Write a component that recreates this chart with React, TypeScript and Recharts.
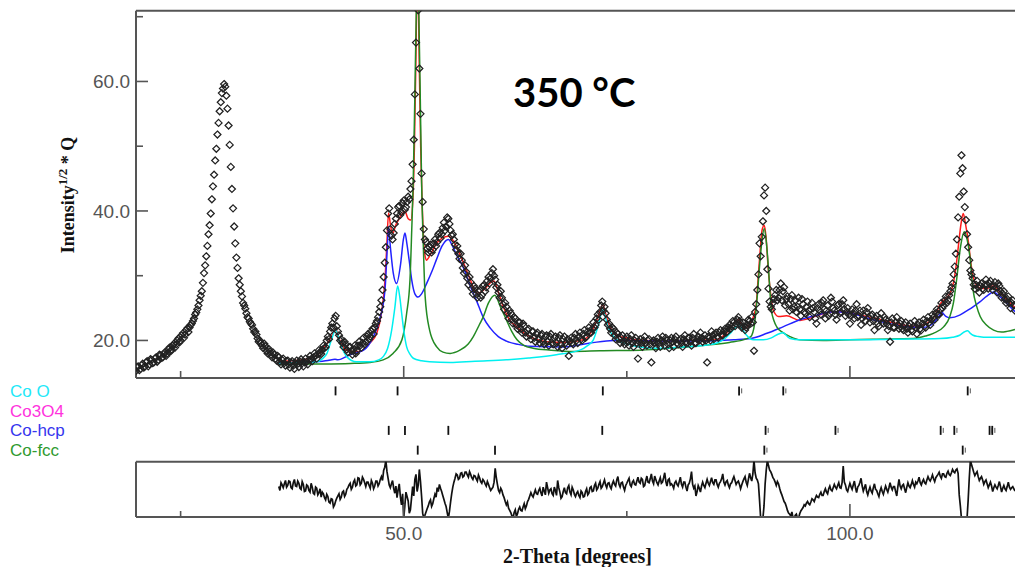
import React from 'react';
import { ComposedChart, Line, Scatter, XAxis, YAxis, ReferenceLine } from 'recharts';

// ---------- axis ranges & ticks ----------
const X_MIN = 20;
const X_MAX = 118.5;
const Y_MIN = 14.2;
const Y_MAX = 70.93;
const DIFF_MIN = -10;
const DIFF_MAX = 10;
const STEP = 0.25;
const HALF_STEP = 0.125;

const X_TICKS = [25, 50, 75, 100];
const X_LABELED = [50, 100];
const Y_TICKS = [20, 30, 40, 50, 60, 70];
const Y_LABELED = [20, 40, 60];

// ---------- observed data (row: start angle, then values every 0.25 deg) ----------
const OBS_ROWS: number[][] = [
  [20, 15.3, 16.0, 15.6, 16.4], [21, 16.0, 16.8, 16.3, 17.0], [22, 16.6, 17.4, 17.0, 17.7], [23, 17.4, 18.2, 18.0, 18.9],
  [24, 18.6, 19.5, 19.4, 20.3], [25, 20.0, 21.1, 20.9, 21.9], [26, 22.0, 22.6, 23.4, 24.3], [27, 25.4, 26.9, 28.9, 31.6],
  [28, 34.6, 37.8, 41.8, 45.6], [29, 49.6, 53.6, 56.8, 58.9], [30, 59.2, 55.8, 50.2, 43.4], [31, 37.6, 32.8, 29.6, 27.6],
  [32, 25.8, 24.9, 23.6, 22.9], [33, 22.4, 21.3, 20.9, 19.8], [34, 19.6, 18.8, 19.1, 18.0], [35, 18.3, 17.4, 17.8, 16.9],
  [36, 17.4, 16.3, 17.2, 16.1], [37, 16.9, 15.8, 16.8, 15.6], [38, 16.9, 15.9, 17.1, 16.0], [39, 17.2, 16.3, 17.6, 16.8],
  [40, 18.0, 17.2, 18.5, 17.9], [41, 19.2, 19.0, 20.6, 21.4], [42, 22.6, 23.4, 22.2, 20.8], [43, 20.2, 19.0, 19.4, 18.2],
  [44, 19.0, 17.8, 19.2, 18.4], [45, 19.8, 18.9, 20.4, 19.8], [46, 21.0, 20.6, 21.8, 22.0], [47, 23.0, 24.4, 26.2, 29.8],
  [48, 34.4, 39.6, 37.2, 35.6], [49, 38.0, 39.6, 40.8, 39.8], [50, 41.6, 40.6, 42.2, 43.4], [51, 47.2, 58.0, 75.0, 62.0],
  [52, 45.8, 37.2, 35.2, 33.6], [53, 34.8, 34.0, 35.6, 35.2], [54, 36.6, 36.4, 38.2, 37.6], [55, 38.8, 37.0, 36.4, 34.8],
  [56, 34.6, 32.6, 32.4, 30.4], [57, 30.6, 28.6, 29.0, 27.2], [58, 28.0, 26.6, 27.8, 27.0], [59, 28.6, 28.2, 29.8, 29.6],
  [60, 31.0, 29.4, 28.6, 26.6], [61, 26.6, 24.8, 25.2, 23.4], [62, 24.2, 22.6, 23.4, 21.8], [63, 22.8, 21.2, 22.2, 20.6],
  [64, 21.8, 20.2, 21.4, 19.8], [65, 21.2, 19.6, 21.0, 19.4], [66, 20.8, 19.2, 21.0, 19.4], [67, 20.6, 19.0, 20.8, 18.8],
  [68, 20.6, 19.2, 17.6, 20.4], [69, 19.4, 21.0, 19.6, 21.2], [70, 20.0, 21.6, 20.6, 22.0], [71, 21.2, 22.8, 22.4, 24.0],
  [72, 24.4, 26.0, 25.2, 23.2], [73, 22.6, 21.2, 21.8, 20.2], [74, 21.0, 19.6, 20.8, 19.4], [75, 20.6, 19.2, 20.8, 19.0],
  [76, 20.4, 17.2, 20.2, 19.0], [77, 20.6, 19.2, 20.2, 16.6], [78, 20.0, 18.8, 20.4, 19.0], [79, 20.6, 19.2, 20.0, 18.8],
  [80, 20.4, 19.0, 20.6, 19.4], [81, 20.2, 19.0, 20.8, 19.6], [82, 20.4, 19.2, 21.0, 19.6], [83, 20.6, 21.2, 19.8, 20.8],
  [84, 16.6, 20.4, 21.4, 20.2], [85, 21.2, 20.4, 21.6, 20.8], [86, 21.8, 21.4, 22.4, 22.2], [87, 22.8, 22.6, 23.6, 22.4],
  [88, 22.8, 21.6, 22.4, 23.0], [89, 23.6, 18.4, 25.6, 30.2], [90, 33.0, 38.4, 43.6, 31.0], [91, 26.0, 24.8, 26.4, 27.8],
  [92, 26.6, 28.8, 27.6, 25.4], [93, 26.8, 24.6, 27.0, 25.2], [94, 24.4, 26.6, 23.8, 25.6], [95, 24.2, 26.0, 23.6, 25.8],
  [96, 24.4, 22.6, 25.6, 24.0], [97, 26.2, 23.4, 25.4, 24.2], [98, 26.0, 24.6, 23.2, 25.6], [99, 24.4, 26.2, 23.8, 25.0],
  [100, 22.6, 24.8, 23.4, 25.6], [101, 23.8, 22.4, 24.6, 23.0], [102, 25.0, 22.8, 24.0, 21.6], [103, 23.8, 22.2, 24.2, 22.6],
  [104, 23.2, 21.6, 19.8, 23.4], [105, 22.0, 23.6, 21.8, 23.0], [106, 21.6, 22.8, 21.2, 22.6], [107, 21.4, 23.0, 21.0, 22.8],
  [108, 21.6, 23.2, 22.0, 23.6], [109, 22.4, 24.0, 23.2, 24.8], [110, 24.0, 25.8, 25.4, 26.8], [111, 26.2, 27.6, 28.8, 31.4],
  [112, 35.6, 42.2, 48.6, 43.0], [113, 38.6, 34.4, 30.8, 29.6], [114, 28.0, 29.2, 27.4, 28.8], [115, 27.8, 29.4, 28.0, 29.2],
  [116, 27.8, 29.0, 27.4, 28.4], [117, 26.6, 27.6, 25.8, 26.8], [118, 25.0, 26.2, 24.6],
];

// second set of observed points, half a step later (x = row start + 0.125 + k*0.25)
const OBS_ROWS_B: number[][] = [
  [20, 15.9, 15.4, 16.2, 15.8], [21, 16.6, 16.0, 17.1, 16.5], [22, 17.2, 16.7, 17.8, 17.3], [23, 17.9, 17.6, 18.6, 18.3],
  [24, 19.2, 18.9, 20.0, 19.7], [25, 20.8, 20.4, 21.6, 21.3], [26, 22.4, 23.0, 24.0, 24.8], [27, 26.2, 27.6, 30.4, 33.0],
  [28, 36.4, 39.6, 43.8, 47.8], [29, 51.8, 55.4, 58.2, 59.6], [30, 57.8, 53.2, 46.8, 40.4], [31, 35.0, 31.2, 28.6, 26.8],
  [32, 25.4, 24.2, 23.4, 22.6], [33, 21.8, 21.4, 20.3, 20.0], [34, 19.2, 19.5, 18.4, 18.7], [35, 17.8, 18.1, 17.2, 17.6],
  [36, 16.7, 17.0, 16.5, 16.8], [37, 16.3, 16.6, 16.1, 16.5], [38, 16.4, 16.7, 16.5, 16.6], [39, 16.7, 17.0, 17.1, 17.4],
  [40, 17.6, 17.9, 18.1, 18.6], [41, 18.8, 20.0, 20.2, 22.0], [42, 22.0, 23.8, 21.4, 20.0], [43, 19.6, 19.8, 18.6, 19.0],
  [44, 18.4, 18.6, 18.0, 19.2], [45, 19.2, 19.6, 19.4, 20.6], [46, 20.2, 21.4, 21.0, 22.6], [47, 23.6, 25.2, 27.8, 32.0],
  [48, 37.0, 40.4, 36.2, 36.6], [49, 38.8, 40.6, 39.4, 41.2], [50, 40.2, 41.4, 41.8, 44.6], [51, 51.0, 66.0, 71.0, 55.0],
  [52, 41.4, 35.6, 34.2, 34.4], [53, 33.6, 35.0, 34.6, 36.4], [54, 35.8, 37.4, 37.0, 39.0], [55, 38.0, 36.2, 35.6, 34.0],
  [56, 33.4, 33.4, 31.2, 31.6], [57, 29.6, 29.8, 28.0, 28.4], [58, 27.2, 27.6, 26.6, 28.4], [59, 27.6, 29.2, 28.8, 30.4],
  [60, 30.0, 28.2, 27.4, 27.6], [61, 25.6, 25.8, 24.2, 24.6], [62, 23.2, 23.6, 22.4, 22.8], [63, 21.8, 22.6, 21.2, 21.6],
  [64, 20.8, 21.4, 20.4, 21.0], [65, 20.2, 20.8, 19.8, 20.6], [66, 19.8, 20.6, 19.6, 20.4], [67, 19.6, 20.4, 19.4, 20.2],
  [68, 19.6, 20.2, 19.8, 19.6], [69, 20.4, 20.0, 20.6, 20.2], [70, 21.0, 20.4, 21.4, 21.2], [71, 21.8, 22.0, 23.4, 23.2],
  [72, 25.4, 24.6, 24.2, 22.4], [73, 21.8, 22.0, 20.8, 21.2], [74, 20.2, 20.4, 19.8, 20.2], [75, 19.8, 20.2, 19.6, 20.0],
  [76, 19.6, 19.8, 19.6, 20.0], [77, 19.6, 20.0, 19.4, 19.8], [78, 19.6, 19.8, 19.6, 20.0], [79, 19.8, 20.4, 19.4, 20.0],
  [80, 19.8, 20.2, 19.6, 20.0], [81, 19.6, 20.2, 19.8, 20.4], [82, 19.8, 20.4, 19.6, 20.2], [83, 20.0, 20.4, 20.2, 20.0],
  [84, 20.6, 20.0, 20.8, 21.0], [85, 20.6, 21.2, 20.8, 21.4], [86, 21.2, 22.0, 21.8, 23.0], [87, 22.2, 23.2, 23.0, 22.0],
  [88, 22.2, 22.0, 23.2, 22.6], [89, 22.8, 24.4, 27.8, 35.0], [90, 36.0, 42.4, 40.0, 28.0], [91, 25.2, 25.8, 27.0, 26.2],
  [92, 27.8, 26.2, 28.2, 26.4], [93, 25.6, 26.4, 24.8, 26.2], [94, 25.2, 24.8, 26.4, 24.4], [95, 25.2, 24.6, 24.8, 25.0],
  [96, 23.4, 25.0, 24.6, 25.8], [97, 24.8, 24.6, 23.8, 26.6], [98, 25.0, 24.0, 25.4, 24.2], [99, 25.6, 24.8, 24.4, 24.0],
  [100, 23.8, 24.2, 24.6, 23.6], [101, 24.6, 23.4, 23.8, 24.4], [102, 23.6, 23.8, 23.0, 23.4], [103, 22.6, 23.4, 22.8, 23.6],
  [104, 22.6, 22.2, 22.8, 22.0], [105, 22.8, 22.4, 22.6, 21.8], [106, 22.4, 21.8, 22.2, 21.6], [107, 22.2, 22.0, 22.4, 21.8],
  [108, 22.6, 22.2, 23.0, 22.8], [109, 23.2, 23.6, 24.2, 24.0], [110, 24.8, 25.0, 26.2, 25.8], [111, 27.0, 28.2, 30.2, 33.4],
  [112, 39.0, 45.8, 46.6, 40.6], [113, 36.4, 32.4, 30.2, 28.6], [114, 28.6, 28.2, 28.4, 28.0], [115, 28.6, 28.6, 28.8, 28.4],
  [116, 28.4, 28.2, 28.8, 27.6], [117, 27.2, 26.4, 26.4, 25.8], [118, 25.8, 25.4],
];

// ---------- calculated profile and phase components: [2theta, value] ----------
const CALC_CURVE: number[][] = [
  [36.0, 16.8], [38.0, 16.9], [40.0, 17.5], [40.6, 18.1], [41.2, 19.2], [41.7, 20.1], [42.1, 21.2],
  [42.38, 21.8], [42.7, 20.5], [43.05, 19.3], [43.5, 18.6], [44.0, 18.3], [45.1, 18.3], [46.2, 19.6],
  [47.0, 21.2], [47.5, 24.2], [47.9, 29.3], [48.1, 34.5], [48.3, 39.7], [48.55, 37.5], [48.8, 36.6],
  [49.1, 37.8], [49.4, 38.6], [49.8, 39.5], [50.14, 39.9], [50.5, 38.8], [50.8, 38.6], [51.05, 42.5],
  [51.2, 50], [51.35, 62], [51.45, 72], [51.55, 78], [51.65, 72], [51.75, 62], [51.9, 50], [52.05, 42],
  [52.25, 35], [52.4, 33.0], [52.57, 32.4], [52.8, 32.8], [53.2, 33.8], [53.7, 35.0], [54.3, 35.8],
  [55.0, 36.1], [55.6, 35.3], [56.2, 33.6], [56.7, 32.0], [57.4, 29.6], [58.2, 27.3], [58.8, 27.6],
  [59.3, 28.3], [59.8, 29.0], [60.12, 29.2], [60.6, 27.5], [61.16, 25.2], [61.8, 23.3], [62.66, 22.1],
  [63.4, 21.2], [64.15, 20.6], [65.0, 20.1], [66.0, 19.8], [67.9, 19.7], [70.1, 20.1], [71.0, 21.3],
  [71.6, 23.0], [72.0, 24.6], [72.3, 25.5], [72.6, 24.2], [73.1, 22.1], [73.6, 21.1], [74.2, 20.6],
  [75.0, 20.4], [76.0, 20.1], [77.2, 20.0], [79.8, 19.9], [82.0, 20.0], [85.1, 20.1], [85.7, 20.6],
  [86.2, 21.2], [86.9, 22.5], [87.5, 23.2], [87.9, 22.4], [88.25, 21.9], [88.7, 22.4], [89.2, 23.7],
  [89.5, 25.5], [89.7, 29.3], [89.95, 34], [90.15, 37], [90.4, 37.8], [90.6, 36], [90.85, 31],
  [91.05, 28], [91.4, 24.7], [92.0, 23.7], [92.9, 23.8], [94.4, 23.1], [96.3, 23.8], [97.8, 24.4],
  [98.9, 24.45], [100.0, 24.3], [101.5, 23.8], [103.0, 23.4], [105.0, 22.7], [107.1, 22.2],
  [108.2, 22.4], [109.0, 23.0], [109.6, 24.0], [110.1, 25.6], [110.85, 26.6], [111.3, 27.5],
  [111.6, 28.9], [111.9, 31.5], [112.15, 34.5], [112.45, 38], [112.7, 39.6], [112.95, 38],
  [113.3, 35], [113.55, 32], [113.8, 29.9], [114.2, 28.5], [114.6, 28.1], [115.3, 28.0],
  [116.1, 28.4], [116.8, 27.5], [117.6, 26.3], [118.5, 25.1],
];

const HCP_CURVE: number[][] = [
  [36.0, 16.5], [38.0, 16.6], [40.0, 16.7], [41.5, 16.9], [42.3, 17.1], [42.6, 17.0], [44.0, 17.8],
  [45.5, 18.5], [46.6, 20.6], [47.3, 23.2], [47.9, 27.8], [48.15, 34], [48.3, 37.6], [48.5, 34.5],
  [48.83, 30.4], [49.2, 28.8], [49.66, 31.9], [49.95, 35.5], [50.14, 36.6], [50.35, 35],
  [50.6, 32.5], [50.9, 29.3], [51.25, 27.2], [51.6, 26.7], [52.0, 27.2], [52.6, 28.9], [53.2, 30.8],
  [53.7, 32.6], [54.3, 34.6], [54.8, 35.5], [55.0, 35.6], [55.5, 34.5], [56.0, 33.0], [56.7, 31.2],
  [57.4, 28.6], [58.2, 26.0], [58.9, 23.6], [59.7, 21.9], [60.6, 20.6], [61.5, 19.9], [62.8, 19.4],
  [64.15, 19.1], [67.9, 19.0], [70.9, 19.6], [73.5, 20.0], [75.4, 20.0], [78.35, 19.9], [83.2, 19.9],
  [87.0, 20.1], [88.9, 20.3], [90.7, 21.1], [92.5, 22.1], [94.4, 23.2], [96.3, 23.9], [97.8, 24.4],
  [98.9, 24.4], [100.0, 24.2], [102.6, 23.2], [104.5, 22.6], [106.4, 22.1], [108.2, 22.0],
  [109.35, 22.65], [109.9, 23.6], [110.3, 24.3], [110.75, 23.7], [111.2, 23.5], [112.3, 23.9],
  [113.0, 24.5], [113.8, 25.2], [114.6, 26.0], [115.3, 26.8], [116.1, 27.5], [116.6, 27.0],
  [117.2, 26.3], [117.8, 25.4], [118.5, 24.45],
];

const COO_CURVE: number[][] = [
  [36.0, 16.5], [38.0, 16.6], [40.25, 16.7], [40.9, 17.2], [41.4, 18.0], [41.9, 20.1], [42.38, 21.6],
  [42.86, 19.6], [43.3, 18.2], [43.6, 17.5], [44.7, 16.7], [46.2, 16.7], [47.2, 17.0], [47.7, 17.5],
  [48.2, 18.8], [48.65, 21.6], [49.0, 25.0], [49.32, 28.4], [49.55, 26.8], [49.77, 24.2], [50.0, 21.6],
  [50.33, 19.0], [50.7, 17.9], [51.07, 17.25], [52.0, 16.85], [52.9, 16.7], [55.2, 16.6], [58.0, 16.8],
  [61.5, 17.0], [64.0, 17.3], [67.1, 17.8], [69.75, 18.5], [70.6, 19.2], [71.25, 20.1], [71.8, 22.3],
  [72.3, 24.7], [72.6, 23.6], [72.9, 22.1], [73.4, 20.8], [73.9, 20.1], [75.0, 19.5], [76.5, 19.0],
  [78.7, 18.8], [81.3, 19.0], [84.0, 19.3], [85.1, 19.6], [86.0, 20.3], [86.6, 21.1], [87.1, 21.9],
  [87.6, 22.4], [88.0, 21.6], [88.4, 20.85], [88.8, 20.3], [89.2, 20.1], [90.3, 20.1], [91.2, 20.4],
  [92.0, 21.0], [92.5, 21.2], [93.0, 20.6], [93.3, 20.3], [94.4, 20.1], [100.0, 20.1], [105.0, 20.2],
  [110.1, 20.3], [111.5, 20.5], [112.3, 20.8], [112.8, 21.3], [113.2, 21.5], [113.5, 21.1],
  [113.8, 20.8], [114.4, 20.6], [115.0, 20.5], [118.5, 20.5],
];

const FCC_CURVE: number[][] = [
  [36.0, 16.3], [40.0, 16.35], [44.0, 16.45], [46.2, 16.6], [47.7, 17.0], [48.8, 18.0], [49.8, 20.1],
  [50.33, 24.2], [50.7, 29.3], [50.9, 37.1], [51.07, 44.8], [51.25, 58], [51.4, 70], [51.55, 78],
  [51.7, 70], [51.85, 58], [52.0, 44.8], [52.2, 34.5], [52.4, 26.8], [52.9, 21.6], [53.7, 19.0],
  [54.4, 18.2], [55.2, 18.0], [56.3, 18.5], [57.2, 19.4], [57.8, 20.6], [58.5, 22.5], [58.9, 23.6],
  [59.5, 25.8], [60.2, 27.0], [60.9, 25.0], [61.5, 23.2], [62.1, 21.4], [62.7, 20.1], [63.5, 19.2],
  [64.5, 18.8], [66.5, 18.5], [69.0, 18.3], [72.0, 18.4], [76.5, 18.5], [80.0, 18.8], [84.0, 19.3],
  [86.5, 19.7], [88.3, 20.2], [88.9, 20.6], [89.3, 22.4], [89.55, 25.7], [89.9, 31.9], [90.15, 35.5],
  [90.4, 37.3], [90.65, 35], [90.86, 31.4], [91.2, 24.7], [91.5, 23.0], [91.8, 22.1], [92.5, 21.2],
  [93.3, 20.6], [94.4, 20.1], [97.0, 20.0], [100.0, 20.1], [102.6, 20.2], [107.1, 20.3], [108.5, 20.7],
  [109.35, 21.1], [110.5, 22.1], [111.2, 23.7], [111.6, 25.8], [111.95, 29.3], [112.4, 34.5],
  [112.8, 36.8], [113.15, 35.5], [113.45, 32.9], [113.8, 27.8], [114.2, 25.3], [114.6, 23.7],
  [115.3, 22.4], [116.1, 21.6], [117.0, 21.3], [117.6, 21.4], [118.5, 21.7],
];

// ---------- difference curve (row: start angle, then values every 0.25 deg) ----------
const DIFF_ROWS: number[][] = [
  [36, 1.0, 2.4, 0.6, 3.2], [37, 1.4, 2.8, 0.2, 3.6], [38, 1.0, 2.2, 0.0, 1.8], [39, -0.6, 1.2, -1.0, 0.8],
  [40, -1.8, 0.4, -1.2, -2.8], [41, -1.6, -3.8, -2.6, -5.0], [42, -3.6, -5.6, -3.2, -1.6], [43, -2.8, -0.6, -1.8, 0.6],
  [44, 2.2, 0.8, 3.4, 1.6], [45, 4.0, 2.2, 3.6, 1.0], [46, 2.6, 0.4, 2.2, 1.2], [47, 3.0, 2.0, 4.6, 6.8],
  [48, 10.5, 4.0, 0.6, 3.2], [49, -1.4, -3.0, 2.0, -5.6], [50, -10.5, -1.0, -4.2, -7.4], [51, 1.0, 3.6, -0.8, 7.2],
  [52, -2.4, -10.5, -8.2, -6.0], [53, -3.8, -5.2, -1.8, 0.6], [54, 1.8, -0.8, -3.6, -6.2], [55, -10.5, -4.6, 0.8, 4.0],
  [56, 5.2, 4.0, 6.0, 4.8], [57, 6.2, 4.4, 5.4, 3.6], [58, 4.8, 3.0, 4.2, 2.2], [59, 3.0, 1.2, 1.8, -0.4],
  [60, 0.8, 7.6, 1.8, -1.2], [61, -0.4, -3.0, -5.6, -6.8], [62, -8.4, -10.4, -7.4, -8.8], [63, -6.4, -7.8, -5.2, -6.0],
  [64, -3.6, -1.2, -2.8, -0.2], [65, -1.8, 0.4, -2.4, -0.6], [66, 2.6, -1.4, 0.2, -2.2], [67, -0.4, 3.2, -1.0, -2.6],
  [68, 0.6, -1.6, 1.4, -2.0], [69, -0.2, -2.6, -0.8, -3.0], [70, -1.2, -2.6, 0.2, -1.4], [71, 1.0, -0.6, 2.2, 0.4],
  [72, 2.8, 1.0, 3.4, 0.6], [73, 2.4, 0.2, 3.0, 1.2], [74, 4.6, 0.8, 2.6, -0.4], [75, 2.2, 4.0, 1.0, 3.2],
  [76, 1.6, 4.4, 2.2, 3.6], [77, 1.4, 4.8, 2.4, 5.6], [78, 2.0, 3.6, 1.6, 4.2], [79, 2.6, 6.0, 1.2, 3.8],
  [80, 2.0, 0.4, 3.0, 1.2], [81, 4.4, 0.8, 2.6, -0.6], [82, 2.2, 6.4, 0.4, -2.4], [83, 1.4, -1.0, 2.6, 0.6],
  [84, 3.6, 1.4, 4.2, 1.8], [85, 3.4, 0.8, 2.8, 5.6], [86, 1.6, 3.2, 0.6, 2.4], [87, 4.6, 1.8, 3.0, 0.2],
  [88, 2.8, 4.6, 1.4, 5.8], [89, 3.0, 10.5, 4.0, 2.0], [90, -10.5, -10.5, 2.0, 10.5], [91, 7.0, 5.4, 3.6, 1.4],
  [92, 2.0, -1.0, -3.2, -5.0], [93, -7.6, -9.0, -8.2, -10.4], [94, -9.0, -10.4, -7.8, -6.6], [95, -6.0, -4.4, -5.6, -3.4],
  [96, -4.4, -2.2, -3.0, -1.0], [97, -2.2, 0.2, -1.6, 1.2], [98, -0.6, 1.8, 0.2, 2.4], [99, 0.4, 8.4, 1.6, -0.8],
  [100, 2.2, 0.0, 3.0, -1.2], [101, 1.4, 4.0, -0.6, 1.8], [102, -2.0, 0.8, -1.4, 2.0], [103, -0.4, -2.6, 0.6, -1.8],
  [104, 1.2, -1.0, 2.4, -0.2], [105, 1.0, -2.4, 3.6, 0.2], [106, 1.8, -1.2, 2.4, 0.6], [107, 3.2, 0.8, 2.0, 4.4],
  [108, 1.6, 3.6, 2.0, 4.6], [109, 3.0, 5.2, 2.8, 4.8], [110, 6.2, 4.0, 5.6, 4.4], [111, 6.6, 5.0, 7.2, 6.0],
  [112, 7.4, -2.0, -10.5, -10.5], [113, -10.5, -4.0, 10.5, 7.6], [114, 5.0, 6.4, 3.2, 4.6], [115, 1.8, 3.4, 0.6, 2.6],
  [116, -0.8, 1.6, 0.2, 2.8], [117, -1.0, 1.4, -0.4, 2.6], [118, 0.0, 1.0, -0.6],
];

// difference values half a step later (x = row start + 0.125 + k*0.25)
const DIFF_ROWS_B: number[][] = [
  [36, -0.4, 1.6, 2.0, 0.8], [37, 3.0, 0.6, 2.4, 1.2], [38, 3.0, 0.4, 2.8, -0.8], [39, 1.6, -0.4, 2.2, -1.4],
  [40, 0.8, -2.0, 0.2, -1.0], [41, -3.0, -1.8, -4.6, -3.4], [42, -6.4, -4.2, -2.4, -3.6], [43, -1.0, -2.6, 0.0, 1.6],
  [44, 0.0, 2.6, 1.2, 4.2], [45, 1.6, 4.4, 2.4, 2.6], [46, 1.4, 3.2, 0.2, 3.0], [47, 1.2, 3.6, 3.2, 8.0],
  [48, 6.4, 1.6, 2.0, 0.4], [49, 1.2, -0.2, -2.6, -1.6], [50, -6.0, -2.6, -8.6, -3.2], [51, -2.4, 5.4, 1.4, 3.0],
  [52, -8.6, -9.4, -7.0, -4.6], [53, -6.2, -3.4, -2.8, -0.8], [54, 0.4, -2.2, -5.0, -8.4], [55, -8.0, -1.6, 2.6, 5.6],
  [56, 3.6, 5.8, 4.4, 6.2], [57, 5.2, 6.4, 4.2, 5.0], [58, 3.8, 5.2, 2.8, 3.6], [59, 2.0, 2.8, 0.6, 0.2],
  [60, 2.6, 4.2, -0.4, 0.4], [61, -2.0, -4.4, -4.6, -7.6], [62, -9.6, -8.4, -9.8, -7.2], [63, -7.6, -6.4, -7.0, -4.4],
  [64, -2.4, -2.2, -1.4, -1.6], [65, -0.4, -1.2, 0.8, -2.0], [66, 0.6, -0.2, -1.6, 0.8], [67, -2.2, 0.6, -3.2, -0.8],
  [68, -1.2, 0.6, -1.0, 0.8], [69, -1.8, -1.4, -2.2, -0.6], [70, -2.8, -0.8, -2.0, 0.6], [71, -0.8, 1.4, -0.2, 1.8],
  [72, 0.4, 2.2, 1.6, 2.2], [73, 1.0, 2.0, 1.8, 3.4], [74, 1.8, 2.4, 0.8, 1.4], [75, 3.2, 1.6, 2.6, 1.8],
  [76, 3.0, 2.6, 4.0, 1.0], [77, 3.2, 2.6, 3.8, 3.0], [78, 4.8, 2.4, 3.0, 2.2], [79, 4.2, 2.8, 3.4, 1.6],
  [80, 1.4, 2.4, 1.8, 2.8], [81, 1.8, 2.6, 0.8, 1.6], [82, 3.8, 1.8, 1.2, -0.8], [83, 0.4, 1.2, 1.4, 2.2],
  [84, 2.2, 2.8, 2.4, 3.4], [85, 1.8, 2.2, 3.8, 2.6], [86, 2.8, 1.6, 2.0, 3.6], [87, 3.2, 2.6, 1.8, 1.6],
  [88, 3.8, 2.6, 3.6, 4.2], [89, 5.6, 6.0, 3.4, -4.0], [90, -10.5, -6.0, 7.0, 8.6], [91, 6.4, 4.2, 2.6, 2.8],
  [92, 0.4, -2.0, -4.4, -6.2], [93, -8.6, -9.6, -10.4, -9.4], [94, -10.4, -8.8, -7.2, -5.6], [95, -5.0, -5.2, -4.6, -3.8],
  [96, -3.2, -2.8, -1.8, -2.2], [97, -0.8, -1.0, 0.2, -0.2], [98, 0.6, 0.8, 1.4, 0.6], [99, 2.4, 2.6, -0.2, 0.8],
  [100, 1.0, 1.6, 0.6, 0.8], [101, 2.6, 1.2, 0.6, -0.8], [102, -0.4, -0.6, 0.6, 0.0], [103, -1.6, -0.6, -0.8, -0.2],
  [104, 0.0, 0.6, 0.8, 1.0], [105, -0.8, 1.0, 1.2, 1.4], [106, 0.2, 0.8, 1.2, 1.8], [107, 1.8, 2.6, 3.0, 2.4],
  [108, 2.8, 2.4, 3.4, 3.6], [109, 4.0, 3.8, 4.2, 5.4], [110, 4.8, 5.6, 4.6, 5.8], [111, 5.4, 6.0, 6.4, 7.0],
  [112, 5.8, -6.0, -10.5, -10.5], [113, -10.5, 4.0, 9.0, 6.2], [114, 5.8, 4.6, 4.0, 3.4], [115, 2.8, 2.0, 1.6, 1.2],
  [116, 0.6, 0.8, 1.4, 1.0], [117, 0.4, 0.2, 1.0, 0.8], [118, 0.6, 0.2],
];

// ---------- reflection positions per phase ----------
const PHASE_NAMES = ['Co O', 'Co3O4', 'Co-hcp', 'Co-fcc'];
const PHASE_COLORS = ['#22e8f8', '#ff33dd', '#3535ee', '#2f9a2f'];
const COO_REFL = [42.36, 49.31, 72.31, 87.58, 92.53, 113.2];
const CO3O4_REFL: number[] = [];
const HCP_REFL = [48.32, 50.14, 55.0, 72.25, 90.55, 98.38, 110.17, 111.7, 115.65, 115.95];
const FCC_REFL = [51.57, 60.23, 90.41, 112.64];
const PHASE_REFL = [COO_REFL, CO3O4_REFL, HCP_REFL, FCC_REFL];
const ROW_POS = [3.5, 2.5, 1.5, 0.5];

// ---------- styling ----------
const FRAME = '#555555';
const TICK_FONT = "'Liberation Sans', Arial, sans-serif";
const TICK_COLOR = '#555555';
const SERIF = "'Liberation Serif', 'Times New Roman', serif";

// ---------- helpers building series from the tables ----------
const fromRows = (rows: number[][], offset: number) => {
  const out: { x: number; y: number }[] = [];
  rows.forEach((r) => {
    for (let i = 1; i < r.length; i++) out.push({ x: r[0] + offset + (i - 1) * STEP, y: r[i] });
  });
  return out;
};
const fromPairs = (pairs: number[][]) => pairs.map(([x, y]) => ({ x, y }));

const OBS = [...fromRows(OBS_ROWS, 0), ...fromRows(OBS_ROWS_B, HALF_STEP)];
const DIFF = [...fromRows(DIFF_ROWS, 0), ...fromRows(DIFF_ROWS_B, HALF_STEP)].sort((a, b) => a.x - b.x);
const CALC = fromPairs(CALC_CURVE);
const HCP = fromPairs(HCP_CURVE);
const COO = fromPairs(COO_CURVE);
const FCC = fromPairs(FCC_CURVE);
const REFL_DATA = PHASE_REFL.map((list, i) => list.map((x) => ({ x, y: ROW_POS[i] })));

// ---------- shapes & ticks ----------
const Diamond = (props: any) => {
  const { cx, cy } = props;
  if (cx == null || cy == null) return null;
  const r = 3.5;
  return (
    <path
      d={`M${cx},${cy - r}L${cx + r},${cy}L${cx},${cy + r}L${cx - r},${cy}Z`}
      fill="none"
      stroke="#222"
      strokeWidth={1.25}
    />
  );
};

const ReflMark = (props: any) => {
  const { cx, cy, payload } = props;
  if (cx == null || cy == null) return null;
  const hi = payload && payload.x > 80;
  return (
    <g>
      <line x1={cx} y1={cy - 4.5} x2={cx} y2={cy + 4.5} stroke="#111" strokeWidth={1.8} />
      {hi && <line x1={cx + 2.6} y1={cy - 2.5} x2={cx + 2.6} y2={cy + 2.5} stroke="#555" strokeWidth={1} />}
    </g>
  );
};

const MainYTick = (props: any) => {
  const { x, y, payload } = props;
  const v = payload.value as number;
  const major = Y_LABELED.includes(v);
  return (
    <g>
      <line x1={x} y1={y} x2={x + (major ? 12 : 7)} y2={y} stroke={FRAME} strokeWidth={1.6} />
      {major && (
        <text x={x - 6} y={y} dy="0.36em" textAnchor="end" fontFamily={TICK_FONT} fontSize={19} fill={TICK_COLOR}>
          {v.toFixed(1)}
        </text>
      )}
    </g>
  );
};

const MainXTick = (props: any) => {
  const { x, y, payload } = props;
  const major = X_LABELED.includes(payload.value);
  return <line x1={x} y1={y} x2={x} y2={y - (major ? 12 : 7)} stroke={FRAME} strokeWidth={1.6} />;
};

const DiffXTick = (props: any) => {
  const { x, y, payload } = props;
  const v = payload.value as number;
  const major = X_LABELED.includes(v);
  return (
    <g>
      <line x1={x} y1={y} x2={x} y2={y - (major ? 13 : 6)} stroke={FRAME} strokeWidth={1.6} />
      {major && (
        <text x={x} y={y + 16.5} dy="0.36em" textAnchor="middle" fontFamily={TICK_FONT} fontSize={19} fill={TICK_COLOR}>
          {v.toFixed(1)}
        </text>
      )}
    </g>
  );
};

const LegendTick = (props: any) => {
  const { y, payload } = props;
  const idx = ROW_POS.indexOf(payload.value);
  if (idx < 0) return null;
  return (
    <text x={10} y={y} dy="0.36em" textAnchor="start" fontFamily={TICK_FONT} fontSize={17} fill={PHASE_COLORS[idx]}>
      {PHASE_NAMES[idx]}
    </text>
  );
};

const lineProps = { type: 'monotone' as const, dot: false, activeDot: false, isAnimationActive: false, strokeWidth: 1.5 };

export default function App() {
  return (
    <div style={{ position: 'absolute', left: 0, top: 0, width: 1015, height: 567, overflow: 'hidden', background: '#fff' }}>
      {/* main pattern panel */}
      <div style={{ position: 'absolute', left: 0, top: 0 }}>
        <ComposedChart width={1015} height={380} margin={{ top: 10.7, right: 0, bottom: 1, left: 0 }}>
          <XAxis
            type="number"
            dataKey="x"
            domain={[X_MIN, X_MAX]}
            allowDataOverflow
            ticks={X_TICKS}
            interval={0}
            height={1}
            tickSize={0}
            tickMargin={0}
            tickLine={false}
            axisLine={{ stroke: FRAME, strokeWidth: 2 }}
            tick={(p: any) => <MainXTick {...p} />}
          />
          <YAxis
            type="number"
            dataKey="y"
            domain={[Y_MIN, Y_MAX]}
            allowDataOverflow
            ticks={Y_TICKS}
            interval={0}
            width={136}
            tickSize={0}
            tickMargin={0}
            tickLine={false}
            axisLine={{ stroke: FRAME, strokeWidth: 2 }}
            tick={(p: any) => <MainYTick {...p} />}
          />
          <ReferenceLine y={Y_MAX} stroke={FRAME} strokeWidth={2} />
          <Scatter data={OBS} dataKey="y" shape={Diamond} isAnimationActive={false} />
          <Line data={CALC} dataKey="y" stroke="#ff1a1a" {...lineProps} />
          <Line data={HCP} dataKey="y" stroke="#2222ff" {...lineProps} />
          <Line data={FCC} dataKey="y" stroke="#238a23" {...lineProps} />
          <Line data={COO} dataKey="y" stroke="#00f0f0" {...lineProps} />
        </ComposedChart>
      </div>

      {/* reflection markers with phase names */}
      <div style={{ position: 'absolute', left: 0, top: 381 }}>
        <ComposedChart width={1015} height={79} margin={{ top: 0, right: 0, bottom: 0, left: 0 }}>
          <XAxis type="number" dataKey="x" domain={[X_MIN, X_MAX]} hide />
          <YAxis
            type="number"
            dataKey="y"
            domain={[0, 4]}
            ticks={ROW_POS}
            interval={0}
            width={136}
            axisLine={false}
            tickLine={false}
            tickSize={0}
            tickMargin={0}
            tick={(p: any) => <LegendTick {...p} />}
          />
          {REFL_DATA.map((d, i) =>
            d.length ? <Scatter key={PHASE_NAMES[i]} data={d} dataKey="y" shape={ReflMark} isAnimationActive={false} /> : null
          )}
        </ComposedChart>
      </div>

      {/* difference panel */}
      <div style={{ position: 'absolute', left: 0, top: 455 }}>
        <ComposedChart width={1015} height={112} margin={{ top: 6.7, right: 0, bottom: 0, left: 0 }}>
          <XAxis
            type="number"
            dataKey="x"
            domain={[X_MIN, X_MAX]}
            allowDataOverflow
            ticks={X_TICKS}
            interval={0}
            height={50}
            tickSize={0}
            tickMargin={0}
            tickLine={false}
            axisLine={{ stroke: FRAME, strokeWidth: 2 }}
            tick={(p: any) => <DiffXTick {...p} />}
          />
          <YAxis
            type="number"
            dataKey="y"
            domain={[DIFF_MIN, DIFF_MAX]}
            allowDataOverflow
            width={136}
            tick={false}
            tickLine={false}
            axisLine={{ stroke: FRAME, strokeWidth: 2 }}
          />
          <ReferenceLine y={DIFF_MAX} stroke={FRAME} strokeWidth={2} />
          <Line data={DIFF} dataKey="y" type="linear" stroke="#111" strokeWidth={1.7} dot={false} activeDot={false} isAnimationActive={false} />
        </ComposedChart>
      </div>

      {/* titles */}
      <svg width={1015} height={567} style={{ position: 'absolute', left: 0, top: 0, pointerEvents: 'none' }}>
        <text x={513} y={107} fontFamily="Lato, 'Open Sans', sans-serif" fontWeight={700} fontSize={40} fill="#000">
          350 °C
        </text>
        <text
          x={73.5}
          y={195}
          transform="rotate(-90 73.5 195)"
          textAnchor="middle"
          fontFamily={SERIF}
          fontWeight={700}
          fontSize={18}
          fill="#111"
        >
          Intensity
          <tspan dy={-7} fontSize={13}>1/2</tspan>
          <tspan dy={7}> * Q</tspan>
        </text>
        <text x={577.5} y={563} textAnchor="middle" fontFamily={SERIF} fontWeight={700} fontSize={20} fill="#111">
          2-Theta [degrees]
        </text>
      </svg>
    </div>
  );
}
